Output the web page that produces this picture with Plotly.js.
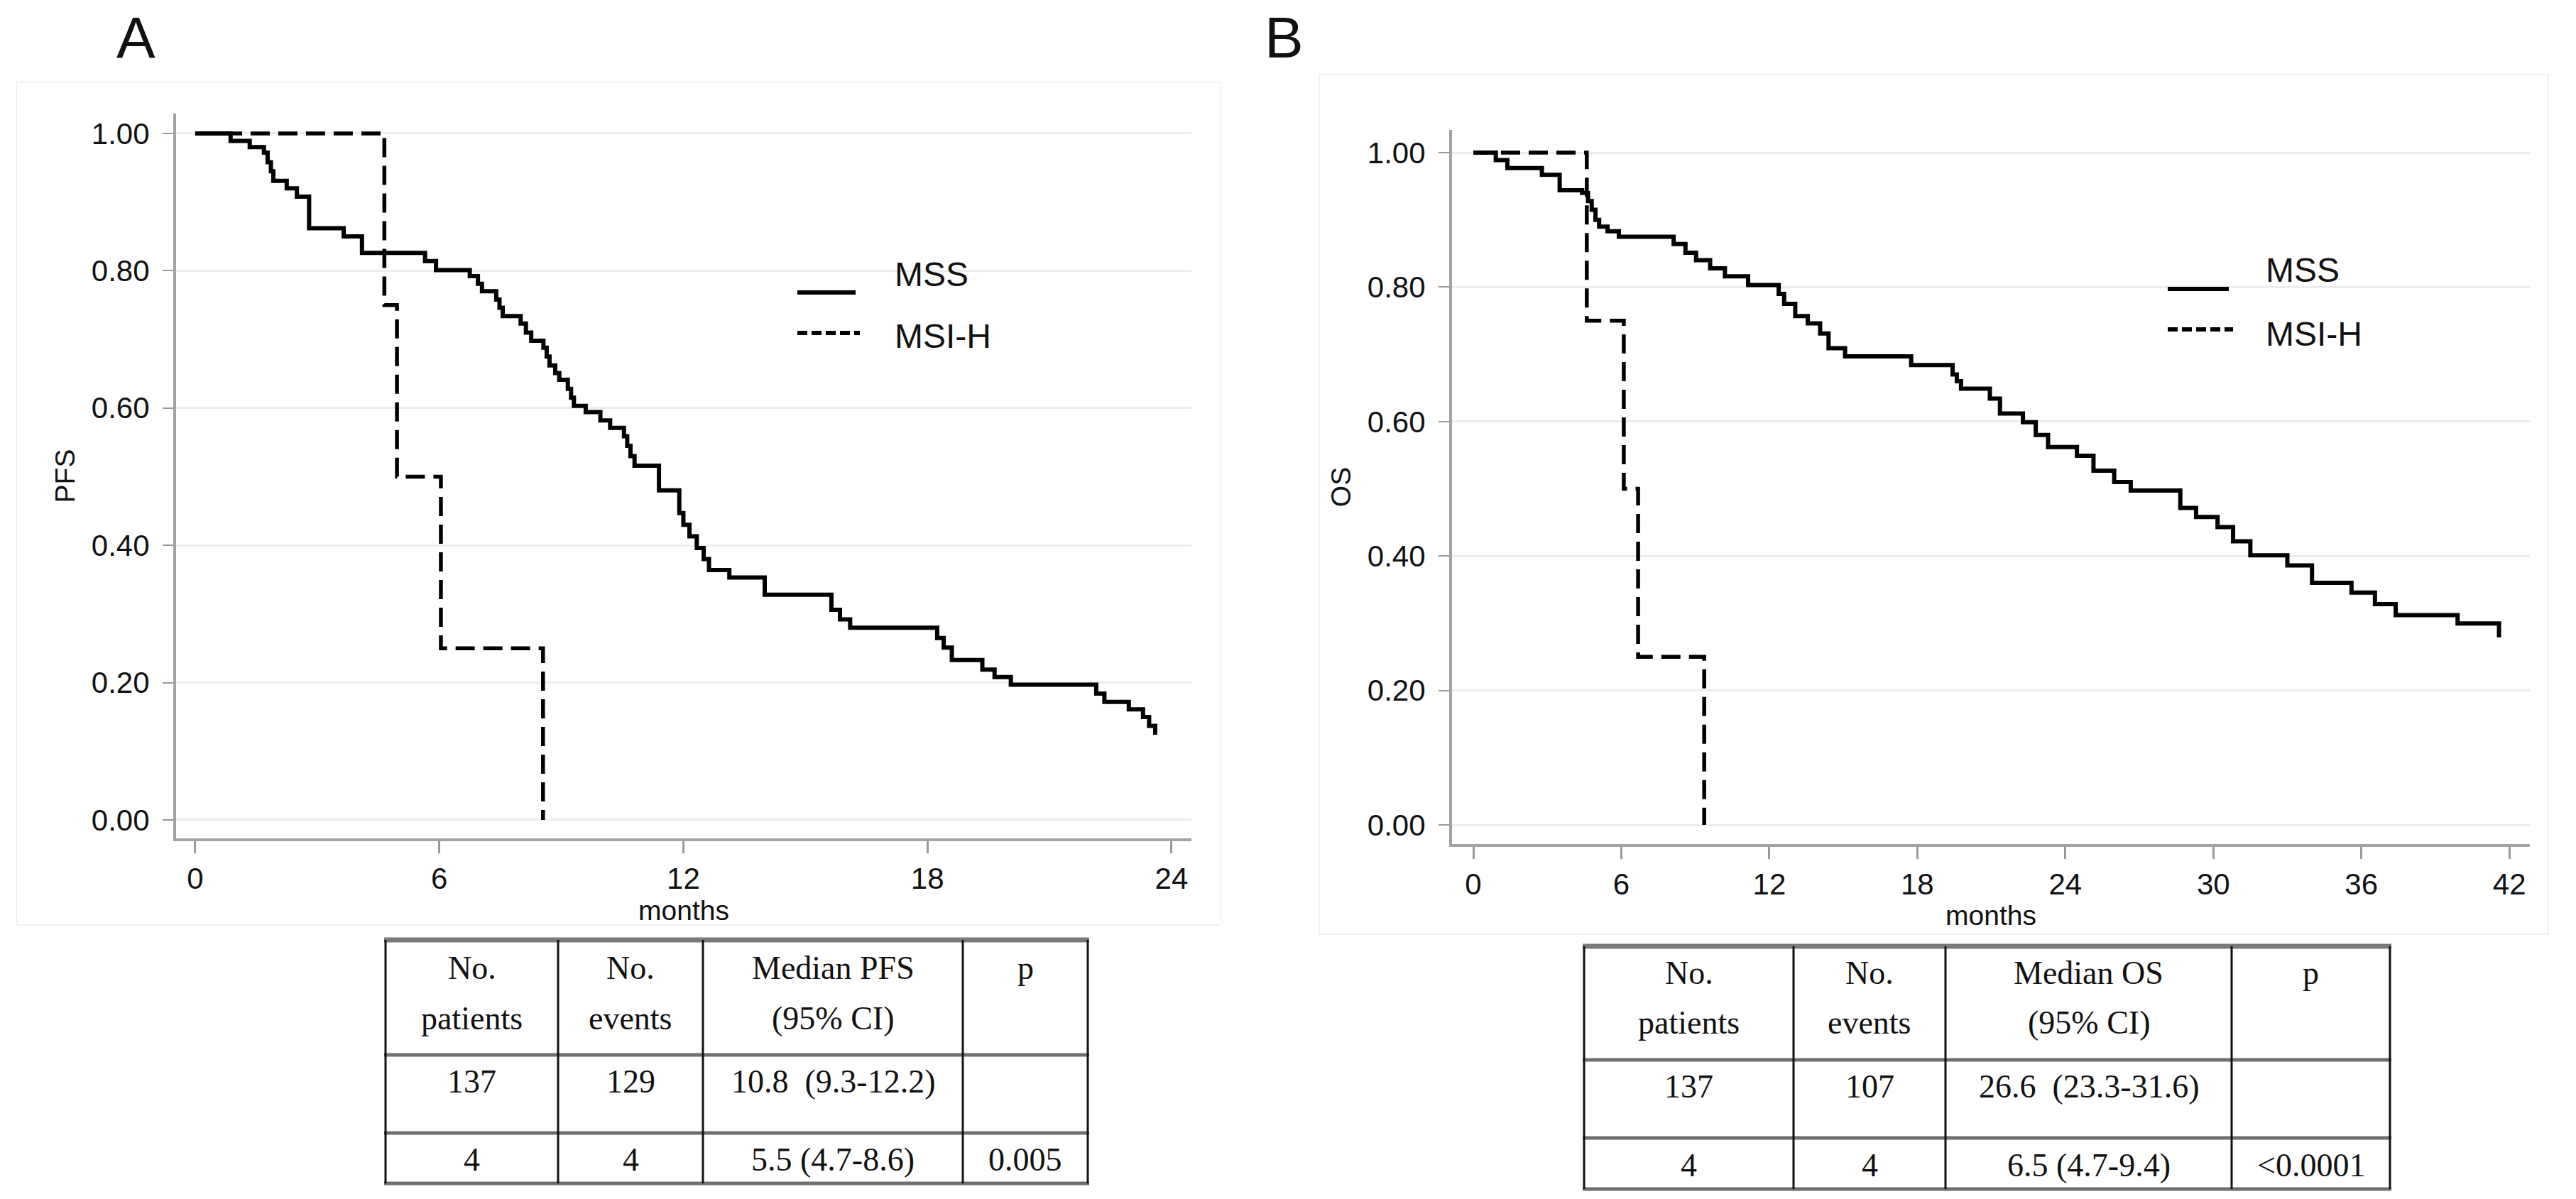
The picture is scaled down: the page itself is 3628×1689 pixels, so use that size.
<!DOCTYPE html>
<html>
<head>
<meta charset="utf-8">
<script src="https://cdn.plot.ly/plotly-3.0.1.min.js"></script>
<style>html,body{margin:0;padding:0;background:#fff;}#chart{width:3628px;height:1689px;}</style>
</head>
<body>
<div id="chart"></div>
<script>
// ---------------- DATA ----------------
// Panel A: progression-free survival
const pfsMssT = [0,0.87,1.34,1.69,1.78,1.86,1.92,2.25,2.5,2.8,3.65,4.1,5.65,5.92,6.75,6.95,7.05,7.4,7.48,7.56,8.0,8.13,8.26,8.56,8.64,8.71,8.85,8.95,9.16,9.24,9.31,9.6,9.96,10.2,10.54,10.62,10.7,10.8,11.4,11.9,12.0,12.15,12.33,12.5,12.63,13.13,14.0,15.64,15.85,16.1,18.24,18.4,18.6,19.35,19.65,20.05,22.15,22.35,22.95,23.3,23.45,23.6];
const pfsMssS = [1,0.989,0.980,0.972,0.958,0.945,0.931,0.920,0.908,0.862,0.850,0.826,0.814,0.801,0.792,0.781,0.770,0.758,0.746,0.734,0.723,0.710,0.698,0.688,0.675,0.662,0.651,0.641,0.628,0.615,0.603,0.594,0.582,0.571,0.559,0.545,0.530,0.516,0.480,0.447,0.430,0.413,0.396,0.380,0.364,0.353,0.328,0.306,0.292,0.280,0.265,0.251,0.233,0.219,0.208,0.197,0.184,0.172,0.161,0.150,0.137,0.124];
const pfsMsihT = [0,4.65,4.96,6.04,8.55];
const pfsMsihS = [1,0.75,0.50,0.25,0];

// Panel B: overall survival
const osMssT = [0,0.91,1.38,2.78,3.5,4.41,4.65,4.8,4.95,5.1,5.44,5.9,8.12,8.6,9.03,9.6,10.2,11.14,12.38,12.6,13.05,13.56,14.06,14.4,15.07,17.75,19.43,19.6,19.77,20.94,21.35,22.28,22.8,23.3,24.47,25.14,25.98,26.65,28.66,29.3,30.17,30.8,31.5,33.0,34.0,35.6,36.55,37.39,39.9,41.58];
const osMssS = [1,0.989,0.977,0.967,0.944,0.940,0.928,0.915,0.900,0.890,0.883,0.875,0.864,0.851,0.840,0.828,0.816,0.803,0.790,0.775,0.757,0.746,0.731,0.709,0.697,0.684,0.670,0.660,0.649,0.634,0.612,0.599,0.580,0.562,0.549,0.527,0.510,0.4975,0.4715,0.458,0.443,0.422,0.401,0.386,0.360,0.3455,0.3285,0.312,0.2996,0.279];
const osMsihT = [0,4.6,6.1,6.68,9.36];
const osMsihS = [1,0.75,0.50,0.25,0];

const seriesNames = ["MSS", "MSI-H"];
const yTicks = [0, 0.2, 0.4, 0.6, 0.8, 1.0];
const xTicksA = [0, 6, 12, 18, 24];
const xTicksB = [0, 6, 12, 18, 24, 30, 36, 42];
const panelLabels = ["A", "B"];
const yTitles = ["PFS", "OS"];
const xTitle = "months";

const tableHeadA = [["No.", "patients"], ["No.", "events"], ["Median PFS", "(95% CI)"], ["p", ""]];
const tableRowsA = [["137", "129", "10.8 \u00a0(9.3-12.2)", ""], ["4", "4", "5.5 (4.7-8.6)", "0.005"]];
const tableHeadB = [["No.", "patients"], ["No.", "events"], ["Median OS", "(95% CI)"], ["p", ""]];
const tableRowsB = [["137", "107", "26.6 \u00a0(23.3-31.6)", ""], ["4", "4", "6.5 (4.7-9.4)", "<0.0001"]];

// ---------------- LAYOUT HELPERS ----------------
const W = 3628, H = 1689;
const px = x => x / W;
const py = y => 1 - y / H;

const tickFont = {family: "Liberation Sans, Arial, sans-serif", size: 42, color: "#111"};
const titleFont = {family: "Liberation Sans, Arial, sans-serif", size: 39, color: "#111"};

const traces = [
  {x: pfsMssT, y: pfsMssS, name: seriesNames[0], xaxis: "x", yaxis: "y", mode: "lines",
   line: {shape: "hv", color: "#000", width: 6}},
  {x: pfsMsihT, y: pfsMsihS, name: seriesNames[1], xaxis: "x", yaxis: "y", mode: "lines",
   line: {shape: "hv", color: "#000", width: 5.5, dash: "27px,12px"}},
  {x: osMssT, y: osMssS, name: seriesNames[0], xaxis: "x2", yaxis: "y2", mode: "lines",
   line: {shape: "hv", color: "#000", width: 6}},
  {x: osMsihT, y: osMsihS, name: seriesNames[1], xaxis: "x2", yaxis: "y2", mode: "lines",
   line: {shape: "hv", color: "#000", width: 5.5, dash: "27px,12px"}}
];

function xAxis(domain, range, ticks, anchor) {
  return {domain: domain, range: range, anchor: anchor, tickvals: ticks, ticktext: ticks.map(String),
    showgrid: false, zeroline: false, showline: true, linecolor: "#a3a3a3", linewidth: 4,
    ticks: "outside", ticklen: 17, tickwidth: 3, tickcolor: "#999", tickfont: tickFont,
    ticklabelstandoff: 0,
    title: {text: xTitle, font: titleFont, standoff: 8}};
}
function yAxis(domain, range, title, anchor) {
  return {domain: domain, range: range, anchor: anchor, tickvals: yTicks, tickformat: ".2f",
    showgrid: true, gridcolor: "#ededed", gridwidth: 3, zeroline: false,
    showline: true, linecolor: "#a3a3a3", linewidth: 4,
    ticks: "outside", ticklen: 15, tickwidth: 2, tickcolor: "#999", tickfont: tickFont,
    ticklabelstandoff: 10,
    title: {text: title, font: titleFont, standoff: 12}};
}

const layout = {
  width: W, height: H,
  margin: {l: 0, r: 0, t: 0, b: 0},
  paper_bgcolor: "#fff", plot_bgcolor: "#fff",
  showlegend: false,
  xaxis: xAxis([px(248), px(1678)], [-0.47, 24.49], xTicksA, "y"),
  yaxis: yAxis([py(1181), py(160)], [-0.0269, 1.0289], yTitles[0], "x"),
  xaxis2: xAxis([px(2045), px(3563)], [-0.8636, 42.83], xTicksB, "y2"),
  yaxis2: yAxis([py(1189), py(183)], [-0.0285, 1.0338], yTitles[1], "x2"),
  shapes: [],
  annotations: []
};

// faint panel frames
[[23, 116, 1719, 1303], [1858, 105, 3589, 1316]].forEach(b => {
  layout.shapes.push({type: "rect", xref: "paper", yref: "paper", x0: px(b[0]), x1: px(b[2]), y0: py(b[1]), y1: py(b[3]),
    line: {color: "#f2f2f2", width: 2}, layer: "below"});
});

// panel letters
[[191, 52], [1808, 52]].forEach((p, i) => {
  layout.annotations.push({xref: "paper", yref: "paper", x: px(p[0]), y: py(p[1]), text: panelLabels[i],
    showarrow: false, xanchor: "center", yanchor: "middle",
    font: {family: "Liberation Sans, Arial, sans-serif", size: 82, color: "#111"}});
});

// legends (drawn as keys next to the curves)
function legend(x0, x1, ySolid, yDash, tx, tySolid, tyDash) {
  layout.shapes.push({type: "line", xref: "paper", yref: "paper", x0: px(x0), x1: px(x1), y0: py(ySolid), y1: py(ySolid),
    line: {color: "#000", width: 6}});
  layout.shapes.push({type: "line", xref: "paper", yref: "paper", x0: px(x0), x1: px(x1 + 6), y0: py(yDash), y1: py(yDash),
    line: {color: "#000", width: 6, dash: "14px,6px"}});
  layout.annotations.push({xref: "paper", yref: "paper", x: px(tx), y: py(tySolid), text: seriesNames[0],
    showarrow: false, xanchor: "left", yanchor: "middle", font: {family: "Liberation Sans, Arial, sans-serif", size: 48, color: "#111"}});
  layout.annotations.push({xref: "paper", yref: "paper", x: px(tx), y: py(tyDash), text: seriesNames[1],
    showarrow: false, xanchor: "left", yanchor: "middle", font: {family: "Liberation Sans, Arial, sans-serif", size: 48, color: "#111"}});
}
legend(1123, 1205, 412, 469, 1258, 386, 473);
legend(3053, 3139, 407, 464, 3189, 381, 470);

// tables
function table(cols, rows, head, body, textY) {
  const hColor = "#6f6f6f";
  rows.forEach((r, i) => {
    layout.shapes.push({type: "line", xref: "paper", yref: "paper", x0: px(cols[0] - 2), x1: px(cols[cols.length - 1] + 2),
      y0: py(r), y1: py(r), line: {color: i === 0 ? "#7a7a7a" : hColor, width: i === 0 ? 7 : 5}});
  });
  cols.forEach(c => {
    layout.shapes.push({type: "line", xref: "paper", yref: "paper", x0: px(c), x1: px(c),
      y0: py(rows[0]), y1: py(rows[rows.length - 1]), line: {color: "#111", width: 3}});
  });
  const f = {family: "Liberation Serif, Times New Roman, serif", size: 46, color: "#111"};
  for (let c = 0; c < 4; c++) {
    const cx = (cols[c] + cols[c + 1]) / 2;
    head[c].forEach((t, k) => {
      if (!t) return;
      layout.annotations.push({xref: "paper", yref: "paper", x: px(cx), y: py(textY[k]), text: t, showarrow: false,
        xanchor: "center", yanchor: "middle", font: f});
    });
    body.forEach((row, k) => {
      if (!row[c]) return;
      layout.annotations.push({xref: "paper", yref: "paper", x: px(cx), y: py(textY[2 + k]), text: row[c], showarrow: false,
        xanchor: "center", yanchor: "middle", font: f});
    });
  }
}
table([543, 786, 990, 1356, 1532], [1324, 1486, 1596, 1667], tableHeadA, tableRowsA, [1363, 1434, 1523, 1633]);
table([2231, 2526, 2740, 3143, 3366], [1333, 1493, 1603, 1675], tableHeadB, tableRowsB, [1370, 1440, 1530, 1641]);

Plotly.newPlot("chart", traces, layout, {staticPlot: true});
</script>
</body>
</html>
